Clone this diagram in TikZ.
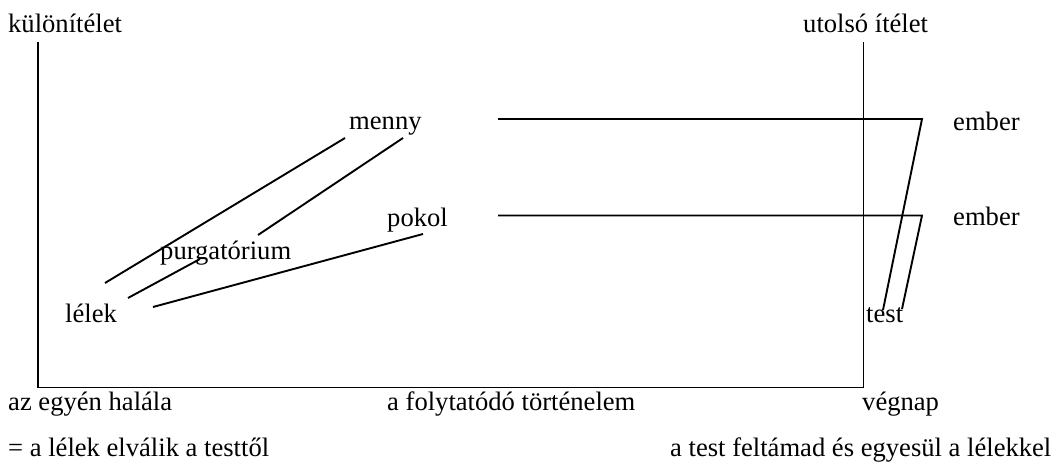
\documentclass[tikz,border=0pt]{standalone}
\usepackage{fontspec}
\setmainfont{Liberation Serif}
\begin{document}
\begin{tikzpicture}[x=1pt,y=-1pt,
  lbl/.style={anchor=base west,inner sep=0pt,font=\fontsize{26.6}{30}\selectfont},
  ln/.style={line width=1.9pt,line cap=butt,line join=miter}]
\useasboundingbox (0,0) rectangle (1054,470);
% labels
\node[lbl] (kul) at (8,33) {különítélet};
\node[lbl] (utl) at (803,33) {utolsó ítélet};
\node[lbl] (menny) at (349,130) {menny};
\node[lbl] (pokol) at (387,227) {pokol};
\node[lbl] (purg) at (160,259) {purgatórium};
\node[lbl] (lelek) at (65,322) {lélek};
\node[lbl] (test) at (866,322) {test};
\node[lbl] (ember1) at (953,131) {ember};
\node[lbl] (ember2) at (953,226) {ember};
\node[lbl] (halal) at (8,410) {az egyén halála};
\node[lbl] (tort) at (387,410) {a folytatódó történelem};
\node[lbl] (vegnap) at (862,410) {végnap};
\node[lbl] (elval) at (8,456) {= a lélek elválik a testtől};
\node[lbl] (felt) at (670,456) {a test feltámad és egyesül a lélekkel};
% frame
\coordinate (tl) at (38,42);
\coordinate (bl) at (38,387.5);
\coordinate (tr) at (863.5,42);
\coordinate (br) at (863.5,387.5);
\draw[ln] (tl) -- (bl) -- (br) -- (tr);
% soul lines
\coordinate (l1a) at (105,283);
\coordinate (l1b) at (345,138);
\coordinate (l2a) at (128,298);
\coordinate (l2b) at (200,259);
\coordinate (l3a) at (258,235);
\coordinate (l3b) at (403,138);
\coordinate (l4a) at (153,307);
\coordinate (l4b) at (423,234);
\draw[ln] (l1a) -- (l1b);
\draw[ln] (l2a) -- (l2b);
\draw[ln] (l3a) -- (l3b);
\draw[ln] (l4a) -- (l4b);
% body lines
\coordinate (m1) at (498,119);
\coordinate (m2) at (922,119);
\coordinate (m3) at (883,310);
\coordinate (p1) at (498,215.5);
\coordinate (p2) at (922,215.5);
\coordinate (p3) at (902,309);
\draw[ln] (m1) -- (m2) -- (m3);
\draw[ln] (p1) -- (p2) -- (p3);
\end{tikzpicture}
\end{document}
